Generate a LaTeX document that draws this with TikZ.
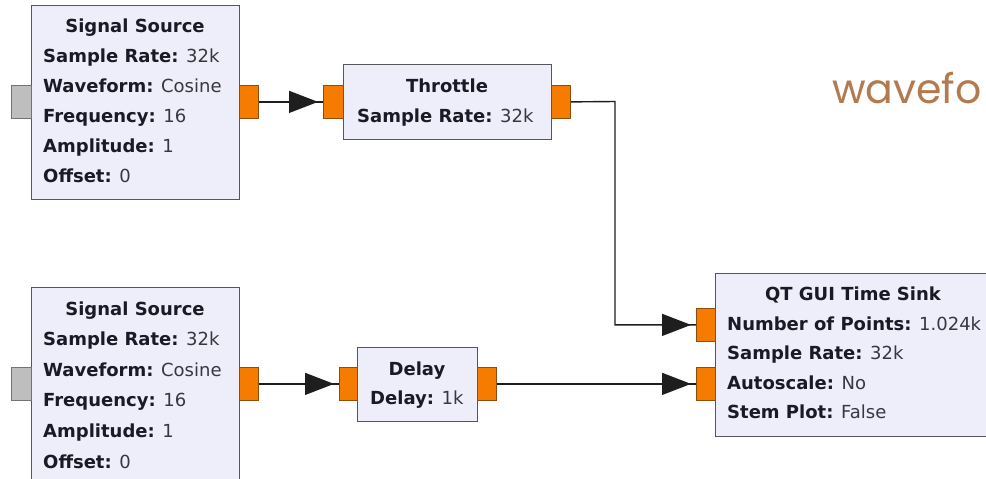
\documentclass[tikz,border=0pt]{standalone}
\usepackage{fontspec}
\setmainfont{DejaVu Sans}
\newfontfamily\wavefont{Poppins}
\usetikzlibrary{arrows.meta,decorations.markings}
\definecolor{blockfill}{RGB}{238,238,250}
\definecolor{blockdraw}{RGB}{85,85,90}
\definecolor{portorange}{RGB}{245,124,0}
\definecolor{portorangedraw}{RGB}{140,78,10}
\definecolor{portgray}{RGB}{190,190,190}
\definecolor{portgraydraw}{RGB}{115,115,115}
\definecolor{wirecol}{RGB}{30,30,30}
\definecolor{labelcol}{RGB}{25,25,40}
\definecolor{valuecol}{RGB}{55,55,65}
\definecolor{wavecol}{RGB}{178,122,78}
\newcommand\blklab[1]{{\bfseries\color{labelcol}#1}}
\begin{document}
\begin{tikzpicture}[x=1pt,y=-1pt,
  blockbox/.style={draw=blockdraw, fill=blockfill, line width=1.2pt, inner sep=0pt, anchor=north west},
  oport/.style={draw=portorangedraw, fill=portorange, line width=0.8pt, inner sep=0pt, anchor=north west, minimum width=19pt, minimum height=33pt},
  gport/.style={draw=portgraydraw, fill=portgray, line width=0.8pt, inner sep=0pt, anchor=north west, minimum width=20pt, minimum height=33pt},
  titletext/.style={anchor=base, inner sep=0pt, text=labelcol, font=\fontsize{18}{20}\selectfont\bfseries},
  linetext/.style={anchor=base west, inner sep=0pt, text=valuecol, font=\fontsize{18}{20}\selectfont},
  wire/.style={draw=wirecol, line width=1.4pt,
    postaction={decorate, decoration={markings,
      mark=at position -5pt with {\arrow{Triangle[length=29pt,width=22pt]}}}}},
  wavetext/.style={anchor=base west, inner sep=0pt, text=wavecol, font=\wavefont\fontsize{41}{41}\selectfont}
]
\useasboundingbox (0,0) rectangle (986,479);
\clip (0,0) rectangle (986,479);
\fill[white] (0,0) rectangle (986,479);

% ---- blocks ----
\node[blockbox, minimum width=208pt, minimum height=194pt] (src1) at (31,5) {};
\node[blockbox, minimum width=208pt, minimum height=200pt] (src2) at (31,287) {};
\node[blockbox, minimum width=208pt, minimum height=75pt] (thr) at (343,64) {};
\node[blockbox, minimum width=120pt, minimum height=74pt] (dly) at (357,347) {};
\node[blockbox, minimum width=276pt, minimum height=163pt] (sink) at (715,273) {};

% ---- ports ----
\node[gport] (src1in) at (11,85) {};
\node[oport] (src1out) at (239,85) {};
\node[gport] (src2in) at (11,367) {};
\node[oport] (src2out) at (239,367) {};
\node[oport, minimum width=20pt] (thrin) at (323,85) {};
\node[oport] (throut) at (551,85) {};
\node[oport, minimum width=18pt] (dlyin) at (339,367) {};
\node[oport] (dlyout) at (477,367) {};
\node[oport] (sinkin1) at (696,308) {};
\node[oport] (sinkin2) at (696,367) {};

% ---- texts: Signal Source 1 ----
\node[titletext] (t1) at (135,32) {Signal Source};
\node[linetext] (s1a) at (43,62) {\blklab{Sample Rate:} 32k};
\node[linetext] (s1b) at (43,92) {\blklab{Waveform:} Cosine};
\node[linetext] (s1c) at (43,122) {\blklab{Frequency:} 16};
\node[linetext] (s1d) at (43,152) {\blklab{Amplitude:} 1};
\node[linetext] (s1e) at (43,182) {\blklab{Offset:} 0};

% ---- Signal Source 2 ----
\node[titletext] (t2) at (135,315) {Signal Source};
\node[linetext] (s2a) at (43,345.6) {\blklab{Sample Rate:} 32k};
\node[linetext] (s2b) at (43,376.2) {\blklab{Waveform:} Cosine};
\node[linetext] (s2c) at (43,406.8) {\blklab{Frequency:} 16};
\node[linetext] (s2d) at (43,437.4) {\blklab{Amplitude:} 1};
\node[linetext] (s2e) at (43,468) {\blklab{Offset:} 0};

% ---- Throttle ----
\node[titletext] (t3) at (447,92) {Throttle};
\node[linetext] (s3a) at (357,122) {\blklab{Sample Rate:} 32k};

% ---- Delay ----
\node[titletext] (t4) at (417,375) {Delay};
\node[linetext] (s4a) at (370,404) {\blklab{Delay:} 1k};

% ---- QT GUI Time Sink ----
\node[titletext] (t5) at (853,300) {QT GUI Time Sink};
\node[linetext] (s5a) at (727,330) {\blklab{Number of Points:} 1.024k};
\node[linetext] (s5b) at (727,359.5) {\blklab{Sample Rate:} 32k};
\node[linetext] (s5c) at (727,389) {\blklab{Autoscale:} No};
\node[linetext] (s5d) at (727,418.5) {\blklab{Stem Plot:} False};

% ---- connectors ----
\coordinate (turn1) at (615,101.5);
\draw[wire] (src1out.east) -- (thrin.west);
\draw[wire] (throut.east) -- (turn1) |- (sinkin1.west);
\draw[wire] (src2out.east) -- (dlyin.west);
\draw[wire] (dlyout.east) -- (sinkin2.west);

% ---- overlay text ----
\node[wavetext] (wave) at (832,103) {wavefo};
\end{tikzpicture}
\end{document}
